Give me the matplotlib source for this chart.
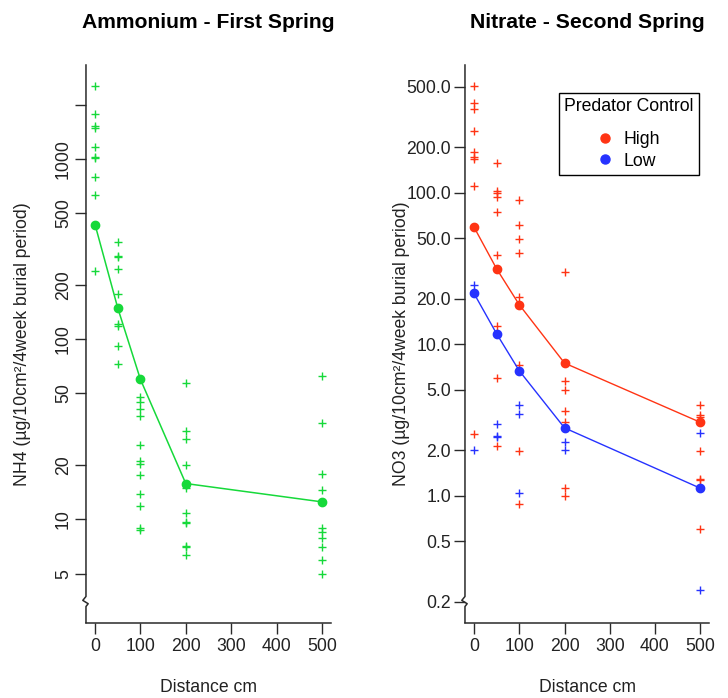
import matplotlib.pyplot as plt
from matplotlib.lines import Line2D

plt.rcParams['font.family'] = ['Liberation Sans', 'DejaVu Sans']

# distances of the sample rows (cm)
distances = [0, 50, 100, 200, 500]

# NH4, first spring: single samples per distance, and the plotted means
nh4_samples = [
    [2540, 1780, 1520, 1480, 1160, 1030, 1010, 790, 630, 240],
    [348, 291, 285, 246, 178, 121, 119, 91, 73],
    [47.5, 44.6, 40.7, 37.4, 25.7, 21.1, 20.4, 17.6, 13.9, 11.9, 8.9, 8.7],
    [56.8, 31.0, 27.8, 19.9, 14.9, 10.8, 9.7, 9.6, 7.1, 7.0, 6.3],
    [62.6, 34.2, 17.8, 14.6, 9.0, 8.5, 7.9, 7.0, 5.95, 5.0],
]
nh4_mean = [432, 149, 59.8, 15.8, 12.5]

# NO3, second spring, high and low predator control
no3_high = [
    [506, 389, 358, 257, 186, 171, 166, 110, 2.55],
    [158, 103, 99, 94, 75, 38.9, 13.1, 6.0, 2.13],
    [89.7, 61.6, 49.4, 39.9, 20.6, 7.3, 1.98, 0.88],
    [29.9, 5.74, 5.0, 3.64, 3.05, 1.13, 1.0],
    [3.98, 3.42, 3.30, 1.98, 1.29, 1.26, 0.60],
]
no3_high_mean = [59.2, 31.4, 18.2, 7.5, 3.05]
no3_low = [
    [24.5, 1.99],
    [2.98, 2.49, 2.44],
    [3.98, 3.44, 1.04],
    [2.26, 1.99],
    [3.06, 2.59, 0.24],
]
no3_low_mean = [21.6, 11.7, 6.67, 2.80, 1.12]

nh4_ticks = [5, 10, 20, 50, 100, 200, 500, 1000, 2000]
nh4_ticklabels = ['5', '10', '20', '50', '100', '200', '500', '1000', '']
no3_ticks = [0.2, 0.5, 1, 2, 5, 10, 20, 50, 100, 200, 500]
no3_ticklabels = ['%.1f' % t for t in no3_ticks]
x_ticks = [0, 100, 200, 300, 400, 500]

green = '#16d93a'
red = '#ff3414'
blue = '#2632ff'
axcol = '#2a2a2a'
fs = 12.7

fig = plt.figure(figsize=(7.28, 6.98), dpi=100)
ax1 = fig.add_axes([0.1181, 0.1079, 0.3365, 0.799])
ax2 = fig.add_axes([0.6387, 0.1079, 0.3356, 0.799])


def scatter_groups(ax, groups, color):
    for d, vals in zip(distances, groups):
        ax.plot([d] * len(vals), vals, '+', color=color, ms=6, mew=1.0,
                ls='none', zorder=2)


def style_axis(ax, ylim):
    ax.set_yscale('log')
    ax.set_xlim(-20, 520)
    ax.set_ylim(*ylim)
    ax.minorticks_off()
    for s in ['left', 'top', 'right']:
        ax.spines[s].set_visible(False)
    ax.spines['bottom'].set_color(axcol)
    ax.spines['bottom'].set_linewidth(1.1)
    # left spine with a break mark near the bottom
    brk_x = [0, 0, -0.013, 0.009, 0, 0]
    brk_y = [1, 0.047, 0.040, 0.034, 0.029, 0]
    ax.add_line(Line2D(brk_x, brk_y, transform=ax.transAxes, color=axcol,
                       lw=1.1, clip_on=False))
    ax.set_xticks(x_ticks)
    ax.tick_params(axis='both', length=8, width=1.0, color=axcol,
                   labelsize=fs, labelcolor='#222222')
    ax.tick_params(axis='x', pad=3)
    ax.set_xlabel('Distance cm', fontsize=fs, color='#222222')
    ax.xaxis.set_label_coords(0.5, -0.117)
    ax.xaxis.label.set_va('center')


# ---- left: ammonium
scatter_groups(ax1, nh4_samples, green)
ax1.plot(distances, nh4_mean, '-o', color=green, lw=1.1, ms=6, zorder=3)
style_axis(ax1, (2.67, 3320))
ax1.set_yticks(nh4_ticks)
ax1.set_yticklabels(nh4_ticklabels, rotation=90, va='center')
ax1.tick_params(axis='y', pad=2)
ax1.set_ylabel('NH4 (µg/10cm²/4week burial period)', fontsize=fs,
               color='#222222')
ax1.yaxis.set_label_coords(-0.258, 0.5)
ax1.yaxis.label.set_va('center')
ax1.text(0.5, 1.077, 'Ammonium - First Spring', transform=ax1.transAxes,
         ha='center', va='center', fontsize=15.2, fontweight='bold')

# ---- right: nitrate
scatter_groups(ax2, no3_high, red)
scatter_groups(ax2, no3_low, blue)
ax2.plot(distances, no3_high_mean, '-o', color=red, lw=1.0, ms=6, zorder=3)
ax2.plot(distances, no3_low_mean, '-o', color=blue, lw=1.0, ms=6, zorder=3)
style_axis(ax2, (0.145, 696))
ax2.set_yticks(no3_ticks)
ax2.set_yticklabels(no3_ticklabels)
ax2.tick_params(axis='y', pad=2)
ax2.set_ylabel('NO3 (µg/10cm²/4week burial period)', fontsize=fs,
               color='#222222')
ax2.yaxis.set_label_coords(-0.26, 0.5)
ax2.yaxis.label.set_va('center')
ax2.text(0.5, 1.077, 'Nitrate - Second Spring', transform=ax2.transAxes,
         ha='center', va='center', fontsize=15.2, fontweight='bold')

handles = [Line2D([], [], marker='o', ls='none', color=red, ms=6.5),
           Line2D([], [], marker='o', ls='none', color=blue, ms=6.5)]
leg = ax2.legend(handles, ['High', 'Low'], title='Predator Control',
                 loc='upper left', bbox_to_anchor=(0.385, 0.95),
                 fontsize=fs, title_fontsize=fs, fancybox=False,
                 edgecolor='black', framealpha=1, borderpad=0.3,
                 labelspacing=0.25, handlelength=0.8, handletextpad=0.6,
                 borderaxespad=0, alignment='center')
leg.get_frame().set_linewidth(1.0)
# more room between the legend title and the entries, as in the original
leg._legend_box.sep = 11.5

fig.savefig('out.png', dpi=100)
